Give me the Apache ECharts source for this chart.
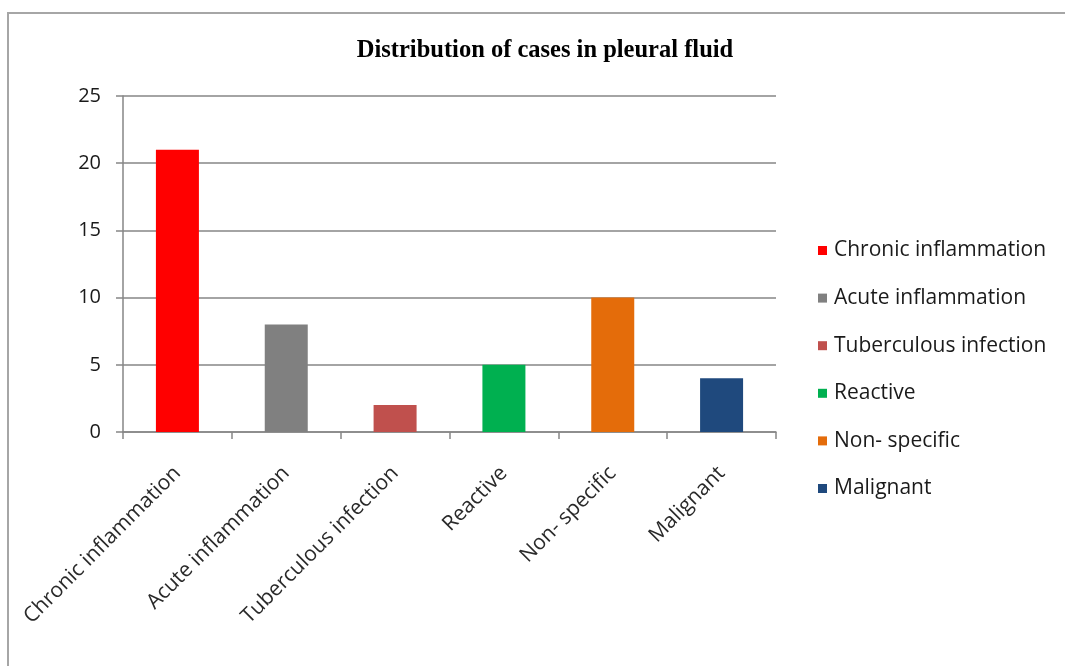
<!DOCTYPE html>
<html>
<head>
<meta charset="utf-8">
<script src="https://cdn.jsdelivr.net/npm/echarts@6/dist/echarts.min.js"></script>
<style>
html,body{margin:0;padding:0;background:#fff;}
#chart{width:1065px;height:666px;}
</style>
</head>
<body>
<div id="chart"></div>
<script>
const categories = ["Chronic inflammation", "Acute inflammation", "Tuberculous infection", "Reactive", "Non- specific", "Malignant"];
const values = [21, 8, 2, 5, 10, 4];
const colors = ["#FF0000", "#808080", "#C0504D", "#00B050", "#E46C0A", "#1F497D"];
const titleText = "Distribution of cases in pleural fluid";

const chart = echarts.init(document.getElementById('chart'));
const series = categories.map((name, i) => ({
  name: name,
  type: 'bar',
  stack: 'all',
  barWidth: 43,
  itemStyle: { color: colors[i] },
  data: values.map((v, j) => (j === i ? v : '-'))
}));

chart.setOption({
  animation: false,
  backgroundColor: '#fff',
  graphic: [{
    type: 'rect',
    shape: { x: 8, y: 13, width: 1200, height: 800 },
    style: { fill: 'none', stroke: '#a6a6a6', lineWidth: 2 },
    silent: true
  }],
  title: {
    text: titleText,
    left: 540,
    textAlign: 'center',
    top: 33,
    textStyle: { fontFamily: 'Liberation Serif', fontWeight: 'bold', fontSize: 24.5, color: '#000' }
  },
  legend: {
    orient: 'vertical',
    left: 818,
    top: 240,
    padding: 0,
    itemWidth: 9,
    itemHeight: 9,
    itemGap: 26.6,
    icon: 'rect',
    data: categories,
    textStyle: { fontFamily: 'Open Sans', fontSize: 21, lineHeight: 21, color: '#1a1a1a', padding: [0, 0, 0, 2] }
  },
  grid: { left: 123, right: 289, top: 96, bottom: 234, containLabel: false },
  xAxis: {
    type: 'category',
    data: categories,
    axisLine: { lineStyle: { color: '#868686', width: 1.5 } },
    axisTick: { show: true, length: 7, interval: 0, lineStyle: { color: '#868686', width: 1.5 } },
    axisLabel: { rotate: 45, interval: 0, margin: 38, fontFamily: 'Open Sans', fontSize: 21, color: '#2a2a2a' }
  },
  yAxis: {
    type: 'value',
    min: 0,
    max: 25,
    interval: 5,
    axisLine: { show: true, lineStyle: { color: '#868686', width: 1.5 } },
    axisTick: { show: true, length: 7, lineStyle: { color: '#868686', width: 1.5 } },
    splitLine: { lineStyle: { color: '#868686', width: 1.5 } },
    axisLabel: { margin: 22, fontFamily: 'Open Sans', fontSize: 20, color: '#1a1a1a' }
  },
  series: series
});
</script>
</body>
</html>
